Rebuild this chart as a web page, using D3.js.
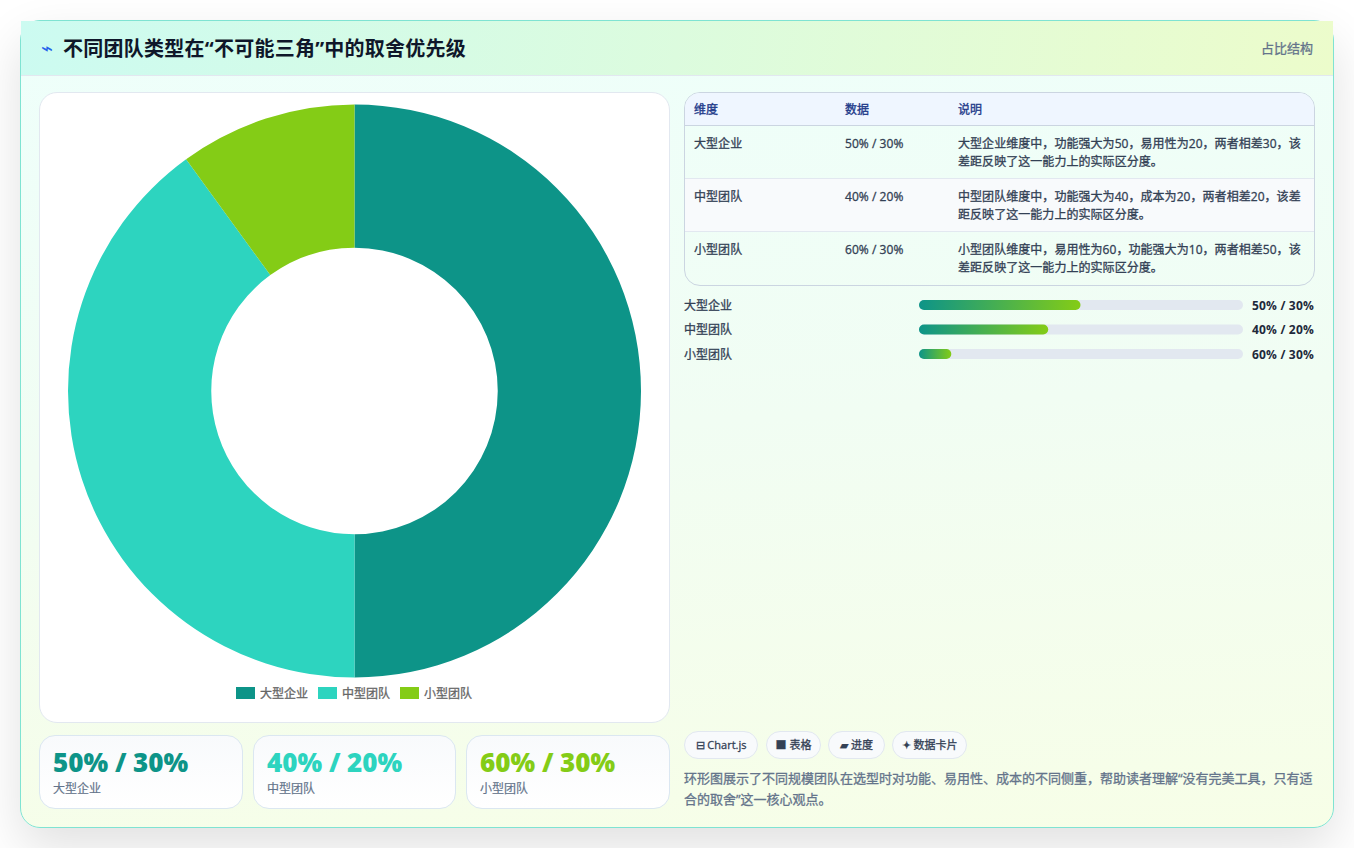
<!DOCTYPE html>
<html lang="zh">
<head>
<meta charset="utf-8">
<title>不同团队类型在“不可能三角”中的取舍优先级</title>
<script src="https://cdn.jsdelivr.net/npm/d3@7"></script>
<style>
* { box-sizing: border-box; }
html, body { margin: 0; width: 1354px; height: 848px; background: #fff; overflow: hidden;
  font-family: "Open Sans", "Noto Sans CJK SC", sans-serif; }
#panel { position: absolute; left: 20px; top: 20px; width: 1314px; height: 808px; border: 1px solid #7fe3d2;
  border-radius: 20px; background: linear-gradient(176deg, #eefffb 0%, #f1fdf3 50%, #f7fee7 100%);
  box-shadow: 0 20px 50px rgba(0,0,0,.12); }
#head { position: absolute; left: 0; top: 0; width: 1312px; height: 55px; border-bottom: 1px solid #e2e8f0;
  background: linear-gradient(100deg, #ccfbf1, #ecfccb); }
#head .ico { position: absolute; left: 20px; top: 14px; font-size: 20px; line-height: 26px; color: #2563eb; }
#head h1 { position: absolute; left: 42px; top: 13px; margin: 0; font-size: 20px; line-height: 30px; font-weight: 700;
  letter-spacing: .25px; color: #0f172a; }
#head .tag { position: absolute; right: 20px; top: 18px; font-size: 13px; line-height: 18px; font-weight: 400;
  -webkit-text-stroke: .3px #64748b; color: #64748b; }
#chartbox { position: absolute; left: 18px; top: 71px; width: 631px; height: 631px; background: #fff;
  border: 1px solid #e2e8f0; border-radius: 18px; }
#chartbox svg { position: absolute; left: -1px; top: -1px; }
.kpi { position: absolute; top: 714px; height: 74px; background: linear-gradient(180deg, #f8fafc, #fff 100%);
  border: 1px solid #dbe7f1; border-radius: 16px; }
.kpi .v { position: absolute; left: 13px; top: 9px; font-size: 26px; line-height: 34px; font-weight: 800; white-space: nowrap; }
.kpi .l { position: absolute; left: 13px; top: 44px; font-size: 12px; line-height: 18px; font-weight: 400;
  -webkit-text-stroke: .2px #64748b; color: #64748b; }
#tbl { position: absolute; left: 663px; top: 71px; width: 631px; height: 194px; border: 1px solid #cbd5e1;
  border-radius: 16px; overflow: hidden; }
#tbl div { position: absolute; }
.thead { left: 0; top: 0; width: 100%; height: 33px; background: #eff6ff; border-bottom: 1px solid #cbd5e1; }
.trow { left: 0; width: 100%; border-bottom: 1px solid #e2e8f0; }
.cell { font-size: 12px; line-height: 18px; font-weight: 400; letter-spacing: .05px; -webkit-text-stroke: .3px #334155; color: #334155; }
.hcell { font-size: 12px; line-height: 18px; font-weight: 400; -webkit-text-stroke: .35px #1e3a8a; color: #1e3a8a; top: 8px; }
.barlab { position: absolute; left: 663px; font-size: 12px; line-height: 18px; font-weight: 400; -webkit-text-stroke: .3px #334155; color: #334155; }
.barval { position: absolute; right: 19px; font-size: 12px; line-height: 18px; font-weight: 700; color: #1e293b; letter-spacing: .2px; }
.chip { position: absolute; top: 710px; height: 28px; border: 1px solid #e2e8f0; border-radius: 14px; background: #f8fafc;
  font-size: 11px; line-height: 26px; font-weight: 400; -webkit-text-stroke: .3px #334155; color: #334155; text-align: center; white-space: nowrap; }
#note { position: absolute; left: 663px; top: 747px; width: 631px; margin: 0; font-size: 13px; line-height: 21px;
  font-weight: 400; -webkit-text-stroke: .3px #64748b; color: #64748b; }
</style>
</head>
<body>
<div id="panel">
  <div id="head"><span class="ico">⌁</span><h1>不同团队类型在“不可能三角”中的取舍优先级</h1><span class="tag">占比结构</span></div>
  <div id="chartbox"></div>
  <div id="tbl"></div>
  <p id="note">环形图展示了不同规模团队在选型时对功能、易用性、成本的不同侧重，帮助读者理解“没有完美工具，只有适合的取舍”这一核心观点。</p>
</div>
<script>
const categories = ['大型企业', '中型团队', '小型团队']
const shares = [50, 40, 10]
const colors = ['#0d9488', '#2dd4bf', '#84cc16']
const valueLabels = ['50% / 30%', '40% / 20%', '60% / 30%']
const notes = [
  '大型企业维度中，功能强大为50，易用性为20，两者相差30，该差距反映了这一能力上的实际区分度。',
  '中型团队维度中，功能强大为40，成本为20，两者相差20，该差距反映了这一能力上的实际区分度。',
  '小型团队维度中，易用性为60，功能强大为10，两者相差50，该差距反映了这一能力上的实际区分度。'
]
const headers = ['维度', '数据', '说明']
const chips = ['⊟ Chart.js', '■ 表格', '▰ 进度', '✦ 数据卡片']

const panel = d3.select('#panel')

// donut
const width = 631, height = 631
const cx = 315.5, cy = 299
const outer = 286.5

const svg = d3.select('#chartbox').append('svg')
  .attr('width', width)
  .attr('height', height)

const pie = d3.pie().sort(null).value(d => d)
const arc = d3.arc().innerRadius(outer / 2).outerRadius(outer)

svg.append('g')
  .attr('transform', `translate(${cx},${cy})`)
  .selectAll('path')
  .data(pie(shares))
  .enter().append('path')
  .attr('d', arc)
  .attr('fill', (d, i) => colors[i])

// legend
const legendX = [197, 279, 361]
const legend = svg.selectAll('.leg')
  .data(categories)
  .enter().append('g')
  .attr('class', 'leg')
  .attr('transform', (d, i) => `translate(${legendX[i]},595)`)
legend.append('rect')
  .attr('width', 19).attr('height', 12)
  .attr('fill', (d, i) => colors[i])
legend.append('text')
  .text(d => d)
  .attr('x', 24).attr('y', 10.5)
  .attr('font-size', 12)
  .attr('stroke', '#666')
  .attr('stroke-width', 0.3)
  .attr('fill', '#666')

// kpi cards
const kpiX = [18, 232, 445]
const kpiW = [204, 203, 204]
categories.forEach((c, i) => {
  const k = panel.append('div').attr('class', 'kpi')
    .style('left', kpiX[i] + 'px').style('width', kpiW[i] + 'px')
  k.append('div').attr('class', 'v').style('color', colors[i]).text(valueLabels[i])
  k.append('div').attr('class', 'l').text(c)
})

// table
const tbl = d3.select('#tbl')
const colX = [9, 160, 273]
const rowTop = [33, 86, 139]
const rowH = [53, 53, 53]
tbl.append('div').attr('class', 'thead')
headers.forEach((h, i) => {
  tbl.append('div').attr('class', 'hcell').style('left', colX[i] + 'px').text(h)
})
categories.forEach((c, i) => {
  const r = tbl.append('div').attr('class', 'trow')
    .style('top', rowTop[i] + 'px').style('height', rowH[i] + 'px')
    .style('background', i == 1 ? '#f8fafc' : 'transparent')
    .style('border-bottom', i == 2 ? 'none' : null)
  r.append('div').attr('class', 'cell').style('left', colX[0] + 'px').style('top', '9px').text(c)
  r.append('div').attr('class', 'cell').style('left', colX[1] + 'px').style('top', '9px').text(valueLabels[i])
  r.append('div').attr('class', 'cell').style('left', colX[2] + 'px').style('top', '9px')
    .style('width', '345px').text(notes[i])
})

// progress bars
const barY = d3.scalePoint().domain(categories).range([284, 333])
const barW = d3.scaleLinear().domain([0, 100]).range([0, 323])
const barSvg = panel.append('svg')
  .style('position', 'absolute').style('left', '898px').style('top', '270px')
  .attr('width', 324).attr('height', 80)
const defs = barSvg.append('defs')
categories.forEach((c, i) => {
  const g = defs.append('linearGradient').attr('id', 'bar' + i)
  g.append('stop').attr('offset', '0%').attr('stop-color', colors[0])
  g.append('stop').attr('offset', '100%').attr('stop-color', colors[2])
})
categories.forEach((c, i) => {
  const y = barY(c) - 270 - 5
  barSvg.append('rect').attr('y', y).attr('width', 324).attr('height', 10).attr('rx', 5).attr('fill', '#e2e8f0')
  barSvg.append('rect').attr('y', y).attr('width', barW(shares[i])).attr('height', 10).attr('rx', 5).attr('fill', `url(#bar${i})`)
  panel.append('div').attr('class', 'barlab').style('top', (barY(c) - 8.5) + 'px').text(c)
  panel.append('div').attr('class', 'barval').style('top', (barY(c) - 8.5) + 'px').text(valueLabels[i])
})

// chips
const chipX = [663, 745, 807, 871]
const chipW = [74, 55, 57, 75]
chips.forEach((t, i) => {
  panel.append('div').attr('class', 'chip')
    .style('left', chipX[i] + 'px').style('width', chipW[i] + 'px').text(t)
})
</script>
</body>
</html>
